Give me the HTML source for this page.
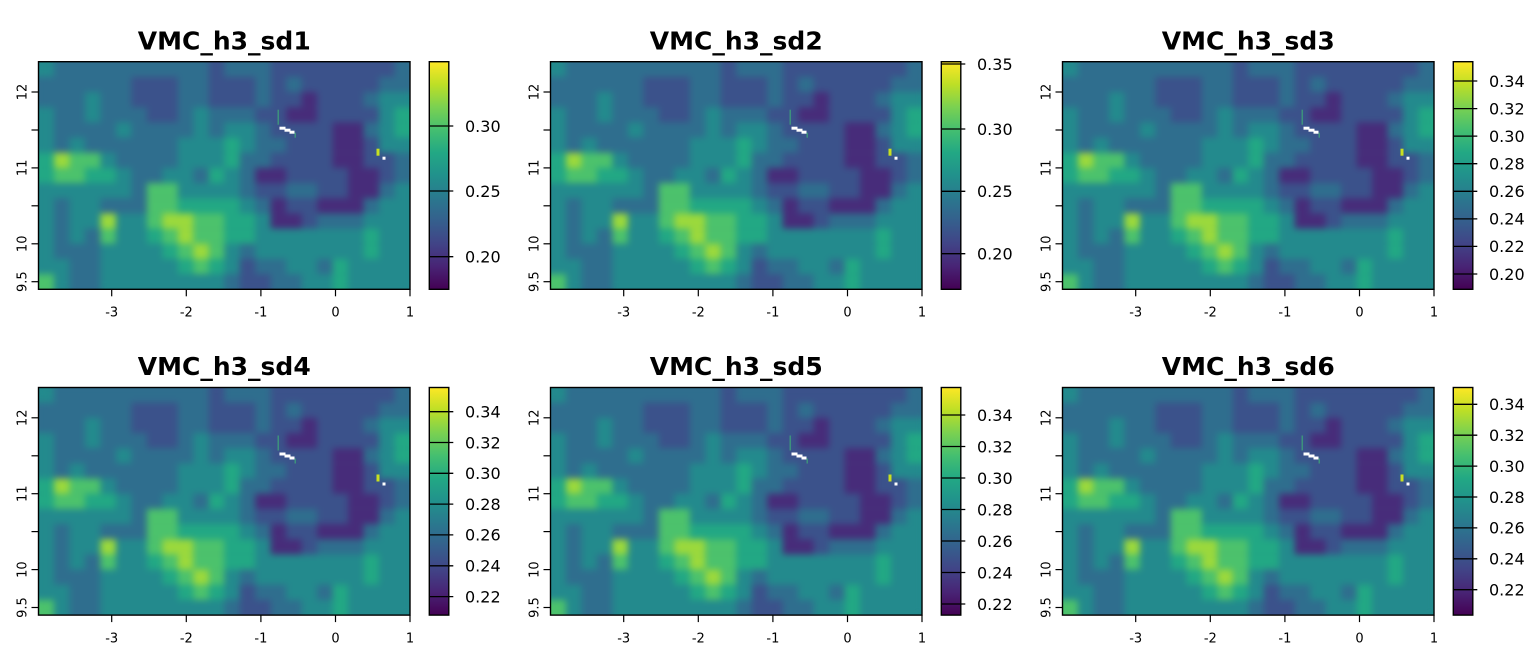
<!DOCTYPE html>
<html>
<head>
<meta charset="utf-8">
<style>
html,body{margin:0;padding:0;background:#fff;}
svg{display:block;}
text{font-family:"DejaVu Sans","Liberation Sans",sans-serif;fill:#000;}
.t{font-size:25px;font-weight:bold;text-anchor:middle;}
.ax{font-size:13px;text-anchor:middle;}
.lg{font-size:16px;}
</style>
</head>
<body>
<svg width="1536" height="652" viewBox="0 0 1536 652" xmlns="http://www.w3.org/2000/svg">
<defs>
  <linearGradient id="vir" x1="0" y1="1" x2="0" y2="0">
    <stop offset="0" stop-color="#440154"/>
    <stop offset="0.1" stop-color="#482475"/>
    <stop offset="0.2" stop-color="#414487"/>
    <stop offset="0.3" stop-color="#355f8d"/>
    <stop offset="0.4" stop-color="#2a788e"/>
    <stop offset="0.5" stop-color="#21918c"/>
    <stop offset="0.6" stop-color="#22a884"/>
    <stop offset="0.7" stop-color="#44bf70"/>
    <stop offset="0.8" stop-color="#7ad151"/>
    <stop offset="0.9" stop-color="#bddf26"/>
    <stop offset="1" stop-color="#fde725"/>
  </linearGradient>
  <filter id="bl" filterUnits="userSpaceOnUse" x="0" y="0" width="371.5" height="227.6" color-interpolation-filters="sRGB">
    <feGaussianBlur stdDeviation="3.5"/>
    <feComponentTransfer><feFuncA type="linear" slope="0" intercept="1"/></feComponentTransfer>
  </filter>
  <g id="map">
    <g filter="url(#bl)">
      <g transform="scale(15.479,15.173)">
        <rect x="0" y="0" width="24" height="15" fill="#2f6e8e"/>
        <g fill="#238a8d">
          <rect x="0" y="0" width="1" height="1"/>
          <rect x="3" y="2" width="1" height="1"/><rect x="22" y="2" width="2" height="1"/>
          <rect x="0" y="3" width="1" height="1"/><rect x="3" y="3" width="1" height="1"/><rect x="10" y="3" width="1" height="1"/><rect x="22" y="3" width="1" height="1"/>
          <rect x="0" y="4" width="1" height="1"/><rect x="5" y="4" width="1" height="1"/><rect x="10" y="4" width="1" height="1"/><rect x="12" y="4" width="2" height="1"/><rect x="22" y="4" width="1" height="1"/>
          <rect x="0" y="5" width="1" height="1"/><rect x="2" y="5" width="1" height="1"/><rect x="9" y="5" width="3" height="1"/><rect x="13" y="5" width="1" height="1"/><rect x="22" y="5" width="2" height="1"/>
          <rect x="4" y="6" width="1" height="1"/><rect x="9" y="6" width="3" height="1"/>
          <rect x="5" y="7" width="1" height="1"/><rect x="8" y="7" width="2" height="1"/><rect x="12" y="7" width="1" height="1"/>
          <rect x="0" y="8" width="6" height="1"/><rect x="9" y="8" width="4" height="1"/><rect x="23" y="8" width="1" height="1"/>
          <rect x="0" y="9" width="1" height="1"/><rect x="2" y="9" width="2" height="1"/><rect x="13" y="9" width="1" height="1"/><rect x="22" y="9" width="2" height="1"/>
          <rect x="0" y="10" width="1" height="1"/><rect x="2" y="10" width="2" height="1"/><rect x="5" y="10" width="2" height="1"/><rect x="14" y="10" width="1" height="1"/><rect x="21" y="10" width="3" height="1"/>
          <rect x="0" y="11" width="1" height="1"/><rect x="2" y="11" width="1" height="1"/><rect x="5" y="11" width="2" height="1"/><rect x="14" y="11" width="7" height="1"/><rect x="22" y="11" width="2" height="1"/>
          <rect x="0" y="12" width="1" height="1"/><rect x="4" y="12" width="4" height="1"/><rect x="12" y="12" width="1" height="1"/><rect x="14" y="12" width="7" height="1"/><rect x="22" y="12" width="2" height="1"/>
          <rect x="0" y="13" width="2" height="1"/><rect x="4" y="13" width="5" height="1"/><rect x="12" y="13" width="1" height="1"/><rect x="16" y="13" width="2" height="1"/><rect x="20" y="13" width="4" height="1"/>
          <rect x="1" y="14" width="1" height="1"/><rect x="4" y="14" width="8" height="1"/><rect x="17" y="14" width="2" height="1"/><rect x="20" y="14" width="4" height="1"/>
        </g>
        <g fill="#3b528b">
          <rect x="11" y="0" width="1" height="1"/><rect x="15" y="0" width="8" height="1"/>
          <rect x="6" y="1" width="3" height="1"/><rect x="11" y="1" width="3" height="1"/><rect x="15" y="1" width="1" height="1"/><rect x="17" y="1" width="5" height="1"/>
          <rect x="6" y="2" width="3" height="1"/><rect x="11" y="2" width="3" height="1"/><rect x="15" y="2" width="2" height="1"/><rect x="18" y="2" width="3" height="1"/>
          <rect x="7" y="3" width="2" height="1"/><rect x="14" y="3" width="2" height="1"/><rect x="18" y="3" width="4" height="1"/>
          <rect x="15" y="4" width="4" height="1"/>
          <rect x="16" y="5" width="3" height="1"/><rect x="21" y="5" width="1" height="1"/>
          <rect x="15" y="6" width="4" height="1"/><rect x="21" y="6" width="2" height="1"/>
          <rect x="16" y="7" width="4" height="1"/><rect x="22" y="7" width="1" height="1"/>
          <rect x="14" y="8" width="2" height="1"/><rect x="18" y="8" width="2" height="1"/>
          <rect x="16" y="9" width="2" height="1"/>
          <rect x="17" y="10" width="1" height="1"/>
          <rect x="13" y="13" width="1" height="1"/>
          <rect x="13" y="14" width="2" height="1"/>
        </g>
        <g fill="#472c7a">
          <rect x="17" y="2" width="1" height="1"/>
          <rect x="16" y="3" width="2" height="1"/>
          <rect x="19" y="4" width="2" height="1"/>
          <rect x="19" y="5" width="2" height="1"/>
          <rect x="19" y="6" width="2" height="1"/>
          <rect x="14" y="7" width="2" height="1"/><rect x="20" y="7" width="2" height="1"/>
          <rect x="20" y="8" width="2" height="1"/>
          <rect x="15" y="9" width="1" height="1"/><rect x="18" y="9" width="3" height="1"/>
          <rect x="15" y="10" width="2" height="1"/>
        </g>
        <g fill="#22a884">
          <rect x="23" y="3" width="1" height="1"/>
          <rect x="23" y="4" width="1" height="1"/>
          <rect x="12" y="5" width="1" height="1"/>
          <rect x="0" y="6" width="1" height="1"/><rect x="12" y="6" width="1" height="1"/>
          <rect x="0" y="7" width="1" height="1"/><rect x="3" y="7" width="2" height="1"/><rect x="11" y="7" width="1" height="1"/>
          <rect x="9" y="9" width="4" height="1"/>
          <rect x="12" y="10" width="2" height="1"/>
          <rect x="7" y="11" width="1" height="1"/><rect x="12" y="11" width="2" height="1"/><rect x="21" y="11" width="1" height="1"/>
          <rect x="8" y="12" width="1" height="1"/><rect x="21" y="12" width="1" height="1"/>
          <rect x="9" y="13" width="1" height="1"/><rect x="11" y="13" width="1" height="1"/><rect x="19" y="13" width="1" height="1"/>
          <rect x="19" y="14" width="1" height="1"/>
        </g>
        <g fill="#4cc26c">
          <rect x="2" y="6" width="2" height="1"/>
          <rect x="1" y="7" width="2" height="1"/>
          <rect x="7" y="8" width="2" height="1"/>
          <rect x="7" y="9" width="2" height="1"/>
          <rect x="7" y="10" width="1" height="1"/><rect x="10" y="10" width="2" height="1"/>
          <rect x="4" y="11" width="1" height="1"/><rect x="8" y="11" width="1" height="1"/><rect x="10" y="11" width="2" height="1"/>
          <rect x="9" y="12" width="1" height="1"/><rect x="11" y="12" width="1" height="1"/>
          <rect x="10" y="13" width="1" height="1"/>
          <rect x="0" y="14" width="1" height="1"/>
        </g>
        <g fill="#9bd93c">
          <rect x="1" y="6" width="1" height="1"/>
          <rect x="4" y="10" width="1" height="1"/><rect x="8" y="10" width="2" height="1"/>
          <rect x="9" y="11" width="1" height="1"/>
          <rect x="10" y="12" width="1" height="1"/>
        </g>
      </g>
    </g>
    <g fill="#fff">
      <rect x="241" y="65" width="6" height="3"/>
      <rect x="246" y="67" width="6" height="3"/>
      <rect x="251" y="69" width="5" height="3"/>
      <rect x="344" y="95" width="3" height="3"/>
    </g>
    <g fill="#c8e020">
      <rect x="338" y="87" width="3" height="7"/>
    </g>
    <g fill="#3fbc73" opacity="0.6">
      <rect x="239" y="48" width="1.5" height="15"/>
      <rect x="256" y="71" width="1.5" height="5"/>
    </g>
  </g>
</defs>

<!-- ============ PANEL 1 ============ -->
<use href="#map" x="38.5" y="61.7"/>
<rect x="38.5" y="61.7" width="371.5" height="227.6" fill="none" stroke="#000" stroke-width="1.4"/>
<text class="t" x="224.25" y="49.3">VMC_h3_sd1</text>
<g stroke="#000" stroke-width="1.2">
  <line x1="111.7" y1="289.3" x2="111.7" y2="296.3"/><line x1="186.3" y1="289.3" x2="186.3" y2="296.3"/><line x1="260.9" y1="289.3" x2="260.9" y2="296.3"/><line x1="335.5" y1="289.3" x2="335.5" y2="296.3"/><line x1="410" y1="289.3" x2="410" y2="296.3"/>
  <line x1="31.5" y1="92" x2="38.5" y2="92"/><line x1="31.5" y1="130" x2="38.5" y2="130"/><line x1="31.5" y1="167.9" x2="38.5" y2="167.9"/><line x1="31.5" y1="205.8" x2="38.5" y2="205.8"/><line x1="31.5" y1="243.8" x2="38.5" y2="243.8"/><line x1="31.5" y1="281.7" x2="38.5" y2="281.7"/>
</g>
<text class="ax" x="111.7" y="316.5">-3</text><text class="ax" x="186.3" y="316.5">-2</text><text class="ax" x="260.9" y="316.5">-1</text><text class="ax" x="335.5" y="316.5">0</text><text class="ax" x="410" y="316.5">1</text>
<text class="ax" transform="translate(26.7,92) rotate(-90)">12</text>
<text class="ax" transform="translate(26.7,167.9) rotate(-90)">11</text>
<text class="ax" transform="translate(26.7,243.8) rotate(-90)">10</text>
<text class="ax" transform="translate(26.7,281.7) rotate(-90)">9.5</text>
<rect x="429.3" y="61.7" width="19.5" height="227.6" fill="url(#vir)" stroke="#000" stroke-width="1.4"/>
<g stroke="#000" stroke-width="1.3">
  <line x1="429.3" y1="126" x2="453.3" y2="126"/><line x1="429.3" y1="191" x2="453.3" y2="191"/><line x1="429.3" y1="256.7" x2="453.3" y2="256.7"/>
</g>
<text class="lg" x="465" y="131.8">0.30</text><text class="lg" x="465" y="196.8">0.25</text><text class="lg" x="465" y="262.5">0.20</text>

<!-- ============ PANEL 2 ============ -->
<use href="#map" x="550.5" y="61.7"/>
<rect x="550.5" y="61.7" width="371.5" height="227.6" fill="none" stroke="#000" stroke-width="1.4"/>
<text class="t" x="736.25" y="49.3">VMC_h3_sd2</text>
<g stroke="#000" stroke-width="1.2">
  <line x1="623.7" y1="289.3" x2="623.7" y2="296.3"/><line x1="698.3" y1="289.3" x2="698.3" y2="296.3"/><line x1="772.9" y1="289.3" x2="772.9" y2="296.3"/><line x1="847.5" y1="289.3" x2="847.5" y2="296.3"/><line x1="922" y1="289.3" x2="922" y2="296.3"/>
  <line x1="543.5" y1="92" x2="550.5" y2="92"/><line x1="543.5" y1="130" x2="550.5" y2="130"/><line x1="543.5" y1="167.9" x2="550.5" y2="167.9"/><line x1="543.5" y1="205.8" x2="550.5" y2="205.8"/><line x1="543.5" y1="243.8" x2="550.5" y2="243.8"/><line x1="543.5" y1="281.7" x2="550.5" y2="281.7"/>
</g>
<text class="ax" x="623.7" y="316.5">-3</text><text class="ax" x="698.3" y="316.5">-2</text><text class="ax" x="772.9" y="316.5">-1</text><text class="ax" x="847.5" y="316.5">0</text><text class="ax" x="922" y="316.5">1</text>
<text class="ax" transform="translate(538.7,92) rotate(-90)">12</text>
<text class="ax" transform="translate(538.7,167.9) rotate(-90)">11</text>
<text class="ax" transform="translate(538.7,243.8) rotate(-90)">10</text>
<text class="ax" transform="translate(538.7,281.7) rotate(-90)">9.5</text>
<rect x="941.3" y="61.7" width="19.5" height="227.6" fill="url(#vir)" stroke="#000" stroke-width="1.4"/>
<g stroke="#000" stroke-width="1.3">
  <line x1="941.3" y1="64" x2="965.3" y2="64"/><line x1="941.3" y1="129" x2="965.3" y2="129"/><line x1="941.3" y1="191.3" x2="965.3" y2="191.3"/><line x1="941.3" y1="253.7" x2="965.3" y2="253.7"/>
</g>
<text class="lg" x="977" y="69.8">0.35</text><text class="lg" x="977" y="134.8">0.30</text><text class="lg" x="977" y="197.1">0.25</text><text class="lg" x="977" y="259.5">0.20</text>

<!-- ============ PANEL 3 ============ -->
<use href="#map" x="1062.5" y="61.7"/>
<rect x="1062.5" y="61.7" width="371.5" height="227.6" fill="none" stroke="#000" stroke-width="1.4"/>
<text class="t" x="1248.25" y="49.3">VMC_h3_sd3</text>
<g stroke="#000" stroke-width="1.2">
  <line x1="1135.7" y1="289.3" x2="1135.7" y2="296.3"/><line x1="1210.3" y1="289.3" x2="1210.3" y2="296.3"/><line x1="1284.9" y1="289.3" x2="1284.9" y2="296.3"/><line x1="1359.5" y1="289.3" x2="1359.5" y2="296.3"/><line x1="1434" y1="289.3" x2="1434" y2="296.3"/>
  <line x1="1055.5" y1="92" x2="1062.5" y2="92"/><line x1="1055.5" y1="130" x2="1062.5" y2="130"/><line x1="1055.5" y1="167.9" x2="1062.5" y2="167.9"/><line x1="1055.5" y1="205.8" x2="1062.5" y2="205.8"/><line x1="1055.5" y1="243.8" x2="1062.5" y2="243.8"/><line x1="1055.5" y1="281.7" x2="1062.5" y2="281.7"/>
</g>
<text class="ax" x="1135.7" y="316.5">-3</text><text class="ax" x="1210.3" y="316.5">-2</text><text class="ax" x="1284.9" y="316.5">-1</text><text class="ax" x="1359.5" y="316.5">0</text><text class="ax" x="1434" y="316.5">1</text>
<text class="ax" transform="translate(1050.7,92) rotate(-90)">12</text>
<text class="ax" transform="translate(1050.7,167.9) rotate(-90)">11</text>
<text class="ax" transform="translate(1050.7,243.8) rotate(-90)">10</text>
<text class="ax" transform="translate(1050.7,281.7) rotate(-90)">9.5</text>
<rect x="1453.3" y="61.7" width="19.5" height="227.6" fill="url(#vir)" stroke="#000" stroke-width="1.4"/>
<g stroke="#000" stroke-width="1.3">
  <line x1="1453.3" y1="81" x2="1477.3" y2="81"/><line x1="1453.3" y1="108.6" x2="1477.3" y2="108.6"/><line x1="1453.3" y1="136.1" x2="1477.3" y2="136.1"/><line x1="1453.3" y1="163.7" x2="1477.3" y2="163.7"/><line x1="1453.3" y1="191.3" x2="1477.3" y2="191.3"/><line x1="1453.3" y1="218.9" x2="1477.3" y2="218.9"/><line x1="1453.3" y1="246.4" x2="1477.3" y2="246.4"/><line x1="1453.3" y1="274" x2="1477.3" y2="274"/>
</g>
<text class="lg" x="1489" y="86.8">0.34</text><text class="lg" x="1489" y="114.4">0.32</text><text class="lg" x="1489" y="141.9">0.30</text><text class="lg" x="1489" y="169.5">0.28</text><text class="lg" x="1489" y="197.1">0.26</text><text class="lg" x="1489" y="224.7">0.24</text><text class="lg" x="1489" y="252.2">0.22</text><text class="lg" x="1489" y="279.8">0.20</text>

<!-- ============ PANEL 4 ============ -->
<use href="#map" x="38.5" y="387.5"/>
<rect x="38.5" y="387.5" width="371.5" height="227.6" fill="none" stroke="#000" stroke-width="1.4"/>
<text class="t" x="224.25" y="375.1">VMC_h3_sd4</text>
<g stroke="#000" stroke-width="1.2">
  <line x1="111.7" y1="615.1" x2="111.7" y2="622.1"/><line x1="186.3" y1="615.1" x2="186.3" y2="622.1"/><line x1="260.9" y1="615.1" x2="260.9" y2="622.1"/><line x1="335.5" y1="615.1" x2="335.5" y2="622.1"/><line x1="410" y1="615.1" x2="410" y2="622.1"/>
  <line x1="31.5" y1="417.8" x2="38.5" y2="417.8"/><line x1="31.5" y1="455.8" x2="38.5" y2="455.8"/><line x1="31.5" y1="493.7" x2="38.5" y2="493.7"/><line x1="31.5" y1="531.6" x2="38.5" y2="531.6"/><line x1="31.5" y1="569.6" x2="38.5" y2="569.6"/><line x1="31.5" y1="607.5" x2="38.5" y2="607.5"/>
</g>
<text class="ax" x="111.7" y="642.3">-3</text><text class="ax" x="186.3" y="642.3">-2</text><text class="ax" x="260.9" y="642.3">-1</text><text class="ax" x="335.5" y="642.3">0</text><text class="ax" x="410" y="642.3">1</text>
<text class="ax" transform="translate(26.7,417.8) rotate(-90)">12</text>
<text class="ax" transform="translate(26.7,493.7) rotate(-90)">11</text>
<text class="ax" transform="translate(26.7,569.6) rotate(-90)">10</text>
<text class="ax" transform="translate(26.7,607.5) rotate(-90)">9.5</text>
<rect x="429.3" y="387.5" width="19.5" height="227.6" fill="url(#vir)" stroke="#000" stroke-width="1.4"/>
<g stroke="#000" stroke-width="1.3">
  <line x1="429.3" y1="411.7" x2="453.3" y2="411.7"/><line x1="429.3" y1="442.5" x2="453.3" y2="442.5"/><line x1="429.3" y1="473.3" x2="453.3" y2="473.3"/><line x1="429.3" y1="504.1" x2="453.3" y2="504.1"/><line x1="429.3" y1="534.9" x2="453.3" y2="534.9"/><line x1="429.3" y1="565.8" x2="453.3" y2="565.8"/><line x1="429.3" y1="596.6" x2="453.3" y2="596.6"/>
</g>
<text class="lg" x="465" y="417.5">0.34</text><text class="lg" x="465" y="448.3">0.32</text><text class="lg" x="465" y="479.1">0.30</text><text class="lg" x="465" y="509.9">0.28</text><text class="lg" x="465" y="540.7">0.26</text><text class="lg" x="465" y="571.6">0.24</text><text class="lg" x="465" y="602.4">0.22</text>

<!-- ============ PANEL 5 ============ -->
<use href="#map" x="550.5" y="387.5"/>
<rect x="550.5" y="387.5" width="371.5" height="227.6" fill="none" stroke="#000" stroke-width="1.4"/>
<text class="t" x="736.25" y="375.1">VMC_h3_sd5</text>
<g stroke="#000" stroke-width="1.2">
  <line x1="623.7" y1="615.1" x2="623.7" y2="622.1"/><line x1="698.3" y1="615.1" x2="698.3" y2="622.1"/><line x1="772.9" y1="615.1" x2="772.9" y2="622.1"/><line x1="847.5" y1="615.1" x2="847.5" y2="622.1"/><line x1="922" y1="615.1" x2="922" y2="622.1"/>
  <line x1="543.5" y1="417.8" x2="550.5" y2="417.8"/><line x1="543.5" y1="455.8" x2="550.5" y2="455.8"/><line x1="543.5" y1="493.7" x2="550.5" y2="493.7"/><line x1="543.5" y1="531.6" x2="550.5" y2="531.6"/><line x1="543.5" y1="569.6" x2="550.5" y2="569.6"/><line x1="543.5" y1="607.5" x2="550.5" y2="607.5"/>
</g>
<text class="ax" x="623.7" y="642.3">-3</text><text class="ax" x="698.3" y="642.3">-2</text><text class="ax" x="772.9" y="642.3">-1</text><text class="ax" x="847.5" y="642.3">0</text><text class="ax" x="922" y="642.3">1</text>
<text class="ax" transform="translate(538.7,417.8) rotate(-90)">12</text>
<text class="ax" transform="translate(538.7,493.7) rotate(-90)">11</text>
<text class="ax" transform="translate(538.7,569.6) rotate(-90)">10</text>
<text class="ax" transform="translate(538.7,607.5) rotate(-90)">9.5</text>
<rect x="941.3" y="387.5" width="19.5" height="227.6" fill="url(#vir)" stroke="#000" stroke-width="1.4"/>
<g stroke="#000" stroke-width="1.3">
  <line x1="941.3" y1="415" x2="965.3" y2="415"/><line x1="941.3" y1="446.5" x2="965.3" y2="446.5"/><line x1="941.3" y1="478" x2="965.3" y2="478"/><line x1="941.3" y1="509.5" x2="965.3" y2="509.5"/><line x1="941.3" y1="541" x2="965.3" y2="541"/><line x1="941.3" y1="572.5" x2="965.3" y2="572.5"/><line x1="941.3" y1="604" x2="965.3" y2="604"/>
</g>
<text class="lg" x="977" y="420.8">0.34</text><text class="lg" x="977" y="452.3">0.32</text><text class="lg" x="977" y="483.8">0.30</text><text class="lg" x="977" y="515.3">0.28</text><text class="lg" x="977" y="546.8">0.26</text><text class="lg" x="977" y="578.3">0.24</text><text class="lg" x="977" y="609.8">0.22</text>

<!-- ============ PANEL 6 ============ -->
<use href="#map" x="1062.5" y="387.5"/>
<rect x="1062.5" y="387.5" width="371.5" height="227.6" fill="none" stroke="#000" stroke-width="1.4"/>
<text class="t" x="1248.25" y="375.1">VMC_h3_sd6</text>
<g stroke="#000" stroke-width="1.2">
  <line x1="1135.7" y1="615.1" x2="1135.7" y2="622.1"/><line x1="1210.3" y1="615.1" x2="1210.3" y2="622.1"/><line x1="1284.9" y1="615.1" x2="1284.9" y2="622.1"/><line x1="1359.5" y1="615.1" x2="1359.5" y2="622.1"/><line x1="1434" y1="615.1" x2="1434" y2="622.1"/>
  <line x1="1055.5" y1="417.8" x2="1062.5" y2="417.8"/><line x1="1055.5" y1="455.8" x2="1062.5" y2="455.8"/><line x1="1055.5" y1="493.7" x2="1062.5" y2="493.7"/><line x1="1055.5" y1="531.6" x2="1062.5" y2="531.6"/><line x1="1055.5" y1="569.6" x2="1062.5" y2="569.6"/><line x1="1055.5" y1="607.5" x2="1062.5" y2="607.5"/>
</g>
<text class="ax" x="1135.7" y="642.3">-3</text><text class="ax" x="1210.3" y="642.3">-2</text><text class="ax" x="1284.9" y="642.3">-1</text><text class="ax" x="1359.5" y="642.3">0</text><text class="ax" x="1434" y="642.3">1</text>
<text class="ax" transform="translate(1050.7,417.8) rotate(-90)">12</text>
<text class="ax" transform="translate(1050.7,493.7) rotate(-90)">11</text>
<text class="ax" transform="translate(1050.7,569.6) rotate(-90)">10</text>
<text class="ax" transform="translate(1050.7,607.5) rotate(-90)">9.5</text>
<rect x="1453.3" y="387.5" width="19.5" height="227.6" fill="url(#vir)" stroke="#000" stroke-width="1.4"/>
<g stroke="#000" stroke-width="1.3">
  <line x1="1453.3" y1="404.3" x2="1477.3" y2="404.3"/><line x1="1453.3" y1="435.2" x2="1477.3" y2="435.2"/><line x1="1453.3" y1="466.1" x2="1477.3" y2="466.1"/><line x1="1453.3" y1="497" x2="1477.3" y2="497"/><line x1="1453.3" y1="527.9" x2="1477.3" y2="527.9"/><line x1="1453.3" y1="558.8" x2="1477.3" y2="558.8"/><line x1="1453.3" y1="589.7" x2="1477.3" y2="589.7"/>
</g>
<text class="lg" x="1489" y="410.1">0.34</text><text class="lg" x="1489" y="441">0.32</text><text class="lg" x="1489" y="471.9">0.30</text><text class="lg" x="1489" y="502.8">0.28</text><text class="lg" x="1489" y="533.7">0.26</text><text class="lg" x="1489" y="564.6">0.24</text><text class="lg" x="1489" y="595.5">0.22</text>
</svg>
</body>
</html>
